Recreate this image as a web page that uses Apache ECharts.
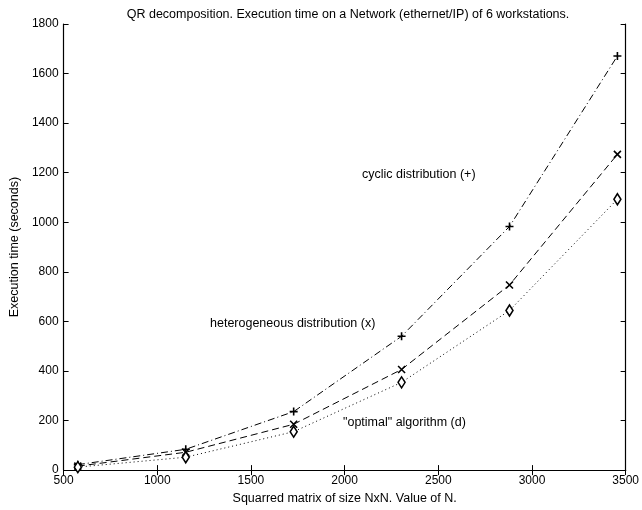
<!DOCTYPE html>
<html>
<head>
<meta charset="utf-8">
<script src="https://cdn.jsdelivr.net/npm/echarts@6/dist/echarts.min.js"></script>
<style>
html,body{margin:0;padding:0;background:#fff;}
#chart{width:642px;height:510px;}
</style>
</head>
<body>
<div id="chart"></div>
<script>
const matrixSizes = [576, 1152, 1728, 2304, 2880, 3456];
const cyclicTimes = [22, 84, 236, 540, 983, 1671];
const heteroTimes = [16, 72, 185, 406, 747, 1274];
const optimalTimes = [12, 52, 155, 354, 644, 1093];

const titleText = 'QR decomposition. Execution time on a Network (ethernet/IP) of 6 workstations.';
const xName = 'Squarred matrix of size NxN. Value of N.';
const yName = 'Execution time (seconds)';
const labelCyclic = 'cyclic distribution (+)';
const labelHetero = 'heterogeneous distribution (x)';
const labelOptimal = '"optimal" algorithm (d)';

const FONT = '"Liberation Sans", Arial, Helvetica, sans-serif';
const TXT = 12.5;

function pairs(xs, ys){ return xs.map((x,i)=>[x, ys[i]]); }

const chart = echarts.init(document.getElementById('chart'), null, {renderer:'canvas'});

const axisCommon = {
  type: 'value',
  axisLine: {show: true, lineStyle: {color: '#000', width: 1.2}},
  axisTick: {show: true, inside: true, length: 5, lineStyle: {color: '#000'}},
  splitLine: {show: false}
};

const plusPath = 'path://M0,5L10,5M5,0L5,10';
const crossPath = 'path://M0,0L10,10M10,0L0,10';
const plainNum = v => String(v);

chart.setOption({
  animation: false,
  backgroundColor: '#fff',
  title: {
    text: titleText,
    left: 343, textAlign: 'center', top: 3,
    textStyle: {fontSize: TXT, fontWeight: 'normal', color: '#000', fontFamily: FONT}
  },
  grid: {left: 59, right: 15, top: 24, bottom: 38, containLabel: false},
  xAxis: [
    Object.assign({}, axisCommon, {
      min: 500, max: 3500, interval: 500, position: 'bottom',
      name: xName, nameLocation: 'middle', nameGap: 20,
      nameTextStyle: {color: '#000', fontSize: TXT, fontFamily: FONT},
      axisLabel: {color: '#000', fontSize: 12, fontFamily: FONT, margin: 5, formatter: plainNum}
    }),
    Object.assign({}, axisCommon, {
      min: 500, max: 3500, interval: 500, position: 'top',
      axisLabel: {show: false}
    })
  ],
  yAxis: [
    Object.assign({}, axisCommon, {
      min: 0, max: 1800, interval: 200, position: 'left',
      name: yName, nameLocation: 'middle', nameGap: 33,
      nameTextStyle: {color: '#000', fontSize: TXT, fontFamily: FONT},
      axisLabel: {color: '#000', fontSize: 12, fontFamily: FONT, margin: 5, formatter: plainNum}
    }),
    Object.assign({}, axisCommon, {
      min: 0, max: 1800, interval: 200, position: 'right',
      axisLabel: {show: false}
    })
  ],
  series: [
    {
      name: 'cyclic', type: 'line', data: pairs(matrixSizes, cyclicTimes),
      symbol: plusPath, symbolSize: 8, showSymbol: true,
      lineStyle: {color: '#000', width: 1, type: [7, 3, 1, 3]},
      itemStyle: {color: 'rgba(0,0,0,0)', borderColor: '#000', borderWidth: 1.6}
    },
    {
      name: 'hetero', type: 'line', data: pairs(matrixSizes, heteroTimes),
      symbol: crossPath, symbolSize: 7, showSymbol: true,
      lineStyle: {color: '#000', width: 1, type: [7, 4]},
      itemStyle: {color: 'rgba(0,0,0,0)', borderColor: '#000', borderWidth: 1.6}
    },
    {
      name: 'optimal', type: 'line', data: pairs(matrixSizes, optimalTimes),
      symbol: 'diamond', symbolSize: [7, 11], showSymbol: true,
      lineStyle: {color: '#000', width: 1, type: [1, 3]},
      itemStyle: {color: '#fff', borderColor: '#000', borderWidth: 1.6}
    }
  ],
  graphic: [
    {type: 'text', left: 362, top: 168, style: {text: labelCyclic, fill: '#000', font: TXT + 'px ' + FONT}},
    {type: 'text', left: 210, top: 317, style: {text: labelHetero, fill: '#000', font: TXT + 'px ' + FONT}},
    {type: 'text', left: 343, top: 416, style: {text: labelOptimal, fill: '#000', font: TXT + 'px ' + FONT}}
  ]
});
</script>
</body>
</html>
